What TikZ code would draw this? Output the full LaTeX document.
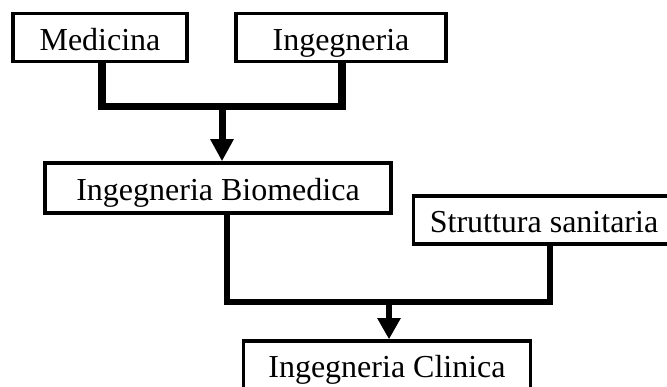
\documentclass[tikz,border=0pt]{standalone}
\usepackage{fontspec}
\setmainfont{Liberation Serif}
\usetikzlibrary{arrows.meta}
\begin{document}
\begin{tikzpicture}
  [x=1pt,y=-1pt,every node/.style={draw,line width=3.5pt,minimum height=48pt,
   text height=25.5pt,text depth=0pt,inner sep=0pt,font=\fontsize{32}{38}\selectfont}]
  \clip (0,0) rectangle (667,387);
  \node[minimum width=174pt] (med) at (100,37.5) {Medicina};
  \node[minimum width=210pt] (ing) at (341,37.5) {Ingegneria};
  \node[minimum width=346pt,minimum height=50pt] (bio) at (218,188) {Ingegneria Biomedica};
  \node[minimum width=261pt] (str) at (544,220) {Struttura sanitaria};
  \node[minimum width=287pt] (cli) at (387,365) {Ingegneria Clinica};
  \coordinate (j1) at (222,106.5);
  \coordinate (j2) at (389,302);
 \path[draw,line width=7.5pt]
        ([xshift=2pt]med.south) |- (j1) -| ([xshift=1pt]ing.south);
 \path[draw,line width=7pt,-{Triangle[length=22pt,width=22pt]}]
        (j1) -- (j1 |- bio.north);
 \path[draw,line width=6pt]
        ([xshift=9pt]bio.south) |- (j2) -| ([xshift=6pt]str.south);
 \path[draw,line width=6pt,-{Triangle[length=21pt,width=22pt]}]
        (j2) -- (j2 |- cli.north);

\end{tikzpicture}
\end{document}
